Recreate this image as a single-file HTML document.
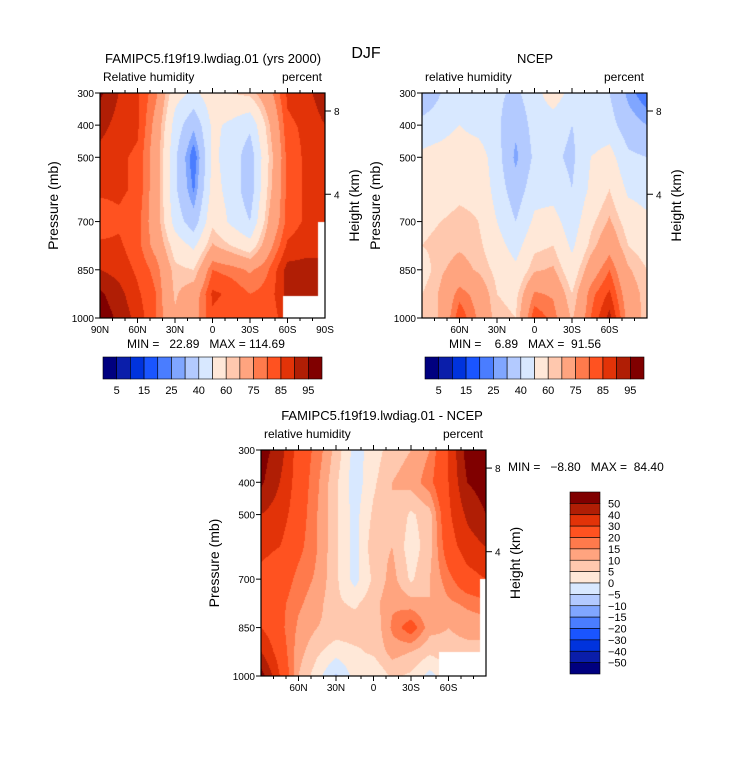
<!DOCTYPE html>
<html><head><meta charset="utf-8">
<style>
body{margin:0;background:#fff;width:733px;height:770px;overflow:hidden;font-family:"Liberation Sans",sans-serif;}
svg text{font-family:"Liberation Sans",sans-serif;fill:#000;white-space:pre;}
</style></head>
<body>
<svg id="fig" width="733" height="770" viewBox="0 0 733 770" xmlns="http://www.w3.org/2000/svg">
<text x="366" y="58" font-size="16" text-anchor="middle">DJF</text>
<g id="root"></g>
</svg>
<script>
const lats = [90,75,60,45,30,15,0,-15,-30,-45,-60,-75,-90];
const pres = [300,400,500,600,700,775,850,925,1000];
const modelRH = [
 [96,90,86,76,54,48,56,60,62,72,86,88,94],
 [92,88,86,72,46,32,52,48,42,64,84,86,90],
 [88,86,84,70,42,20,52,46,34,60,82,86,88],
 [86,86,84,70,42,24,54,46,34,62,82,86,86],
 [82,84,82,70,46,34,58,48,40,66,82,86,86],
 [86,86,82,72,56,48,66,60,54,72,86,88,88],
 [90,88,84,78,62,60,80,78,74,80,92,92,92],
 [96,92,86,80,64,70,86,84,80,82,92,92,92],
 [98,94,88,80,66,72,84,82,80,80,90,90,90]];
const ncepRH = [
 [30,40,44,44,42,38,46,56,46,44,40,28,20],
 [44,46,50,46,42,32,44,44,40,44,44,34,30],
 [52,54,56,56,44,28,42,42,38,50,54,42,40],
 [54,56,58,58,46,34,46,46,40,52,60,48,46],
 [58,60,62,60,50,40,52,54,44,58,66,56,52],
 [60,62,64,62,54,46,58,60,48,62,72,60,56],
 [56,64,68,64,58,52,64,66,54,70,80,66,60],
 [60,66,78,72,60,58,76,74,60,78,86,70,62],
 [60,66,84,74,62,60,84,78,64,80,92,72,62]];
const diffRH = [
 [55,45,25,18,8,-2,2,8,10,15,30,55,60],
 [52,40,25,16,6,-3,4,10,12,18,30,50,55],
 [40,35,24,15,6,-2,6,10,4,8,28,42,50],
 [32,30,22,15,6,-2,8,10,2,8,25,35,40],
 [28,25,18,14,6,-2,6,12,4,10,18,26,30],
 [25,22,16,12,6,4,8,14,12,10,14,16,18],
 [30,22,14,10,8,8,6,16,24,12,10,12,12],
 [40,25,12,6,2,4,6,12,10,6,8,8,8],
 [55,30,10,2,-6,2,0,6,4,-2,4,4,4]];
const modelMissing = [{latMax:-56,pMin:930},{latMax:-84,pMin:700}];
const ncepMissing = [];
const diffMissing = [{latMax:-52,pMin:925},{latMax:-85,pMin:700}];
const rhLevels = [5,10,15,20,25,30,40,50,60,65,75,80,85,90,95];
const rhLabels = ["5","15","25","40","60","75","85","95"];
const diffLevels = [-50,-40,-30,-20,-15,-10,-5,0,5,10,15,20,30,40,50];
const colors = ["#00007f","#0a1eaa","#0033dd","#1a55ff","#4a7dff","#80a6ff","#b3caff","#d8e8ff","#ffe8d8","#ffc8ae","#ffa47f","#ff7a4c","#ff5220","#e23308","#b01e05","#800000"];
const latTicks1 = ["90N","60N","30N","0","30S","60S","90S"];
const latTickVals1 = [90,60,30,0,-30,-60,-90];
const latTickVals2 = [60,30,0,-30,-60];
const latTicks2 = ["60N","30N","0","30S","60S"];
const presTicks = [300,400,500,700,850,1000];
const hTicks = [{km:8,p:356},{km:4,p:615}];

const NS="http://www.w3.org/2000/svg";
const root=document.getElementById('root');
function el(tag,attrs,parent,text){const e=document.createElementNS(NS,tag);for(const k in attrs)e.setAttribute(k,attrs[k]);if(text!==undefined)e.textContent=text;(parent||root).appendChild(e);return e;}
function colorFor(v,levels){let i=0;while(i<levels.length&&v>=levels[i])i++;return colors[i];}
function sample(data,lat,p){
  let j=0;while(j<lats.length-2&&lat<lats[j+1])j++;
  let i=0;while(i<pres.length-2&&p>pres[i+1])i++;
  const tx=(lats[j]-lat)/(lats[j]-lats[j+1]);const ty=(p-pres[i])/(pres[i+1]-pres[i]);
  const a=data[i][j],b=data[i][j+1],c=data[i+1][j],d=data[i+1][j+1];
  return a*(1-tx)*(1-ty)+b*tx*(1-ty)+c*(1-tx)*ty+d*tx*ty;
}
function panel(o){
  const g=el('g',{});
  const X=lat=>o.x0+(90-lat)/180*o.w;
  const Y=p=>o.y0+(p-300)/700*o.h;
  const fo=el('foreignObject',{x:o.x0,y:o.y0,width:o.w,height:o.h},g);
  const cv=document.createElement('canvas');cv.width=o.w;cv.height=o.h;cv.style.display='block';
  
  
  fo.appendChild(cv);
  const ctx=cv.getContext('2d');
  for(let py=0;py<o.h;py++){for(let px=0;px<o.w;px++){
    const lat=90-(px+0.5)/o.w*180;const p=300+(py+0.5)/o.h*700;
    let miss=o.missing.some(m=>lat<m.latMax&&p>m.pMin);
    ctx.fillStyle=miss?'#fff':colorFor(sample(o.data,lat,p),o.levels);ctx.fillRect(px,py,1,1);}}
  el('rect',{x:o.x0,y:o.y0,width:o.w,height:o.h,fill:'none',stroke:'#000','stroke-width':1.2},g);
  el('text',{x:o.titleX,y:o.y0-30,'font-size':13,'text-anchor':'middle',},g,o.title);
  el('text',{x:o.x0+3,y:o.y0-12,'font-size':12,},g,o.varName);
  el('text',{x:o.x0+o.w-3,y:o.y0-12,'font-size':12,'text-anchor':'end',},g,'percent');
  for(let l=80;l>=-80;l-=10){const x=X(l);const major=l%30===0;
    el('line',{x1:x,x2:x,y1:o.y0,y2:o.y0-(major?5:3),stroke:'#000'},g);
    el('line',{x1:x,x2:x,y1:o.y0+o.h,y2:o.y0+o.h+(major?5:3),stroke:'#000'},g);}
  o.latVals.forEach((l,k)=>{el('text',{x:X(l),y:o.y0+o.h+15,'font-size':10,'text-anchor':'middle',},g,o.latLabs[k]);});
  presTicks.forEach(p=>{const y=Y(p);el('line',{x1:o.x0,x2:o.x0-5,y1:y,y2:y,stroke:'#000'},g);
    el('text',{x:o.x0-6,y:y+4,'font-size':10,'text-anchor':'end',},g,p);});
  hTicks.forEach(h=>{const y=Y(h.p);el('line',{x1:o.x0+o.w,x2:o.x0+o.w+6,y1:y,y2:y,stroke:'#000'},g);
    el('text',{x:o.x0+o.w+9,y:y+4,'font-size':10,},g,h.km);});
  const ly=o.y0+o.h/2;
  el('text',{x:0,y:0,'font-size':14,'text-anchor':'middle',transform:`translate(${o.x0-42},${ly}) rotate(-90)`,},g,'Pressure (mb)');
  el('text',{x:0,y:0,'font-size':14,'text-anchor':'middle',transform:`translate(${o.x0+o.w+34},${ly}) rotate(-90)`,},g,'Height (km)');
  el('text',{x:o.minX,y:o.minY,'font-size':12,},g,o.minmax);
}
function hbar(x0,y0,w,h,labels,name){
  const g=el('g',{});const bw=w/colors.length;
  colors.forEach((c,k)=>{el('rect',{x:x0+k*bw,y:y0,width:bw,height:h,fill:c,stroke:'#000','stroke-width':0.6},g);});
  labels.forEach((t,k)=>{el('text',{x:x0+(2*k+1)*bw,y:y0+h+15,'font-size':11,'text-anchor':'middle',},g,t);});
}
panel({name:'model-panel',x0:100,y0:93,w:225,h:225,data:modelRH,levels:rhLevels,missing:modelMissing,title:'FAMIPC5.f19f19.lwdiag.01 (yrs 2000)',titleX:213,varName:'Relative humidity',latVals:latTickVals1,latLabs:latTicks1,minX:127,minY:348,minmax:'MIN =   22.89   MAX = 114.69'});
panel({name:'ncep-panel',x0:422,y0:93,w:225,h:225,data:ncepRH,levels:rhLevels,missing:ncepMissing,title:'NCEP',titleX:535,varName:'relative humidity',latVals:latTickVals2,latLabs:latTicks2,minX:449,minY:348,minmax:'MIN =    6.89   MAX =  91.56'});
panel({name:'difference-panel',x0:261,y0:450,w:225,h:226,data:diffRH,levels:diffLevels,missing:diffMissing,title:'FAMIPC5.f19f19.lwdiag.01 - NCEP',titleX:382,varName:'relative humidity',latVals:latTickVals2,latLabs:latTicks2,minX:508,minY:471,minmax:'MIN =   \u22128.80   MAX =  84.40'});
hbar(103,357,219,22,rhLabels,'model-colorbar');
hbar(425,357,219,22,rhLabels,'ncep-colorbar');
(function(){const g=el('g',{});
  const x0=570,y0=492,w=30,h=182,bh=h/colors.length;
  colors.slice().reverse().forEach((c,k)=>{el('rect',{x:x0,y:y0+k*bh,width:w,height:bh,fill:c,stroke:'#000','stroke-width':0.6},g);});
  diffLevels.slice().reverse().forEach((v,k)=>{el('text',{x:x0+w+8,y:y0+(k+1)*bh+4,'font-size':11,},g,String(v).replace('-','\u2212'));});
})();
</script>
</body></html>
